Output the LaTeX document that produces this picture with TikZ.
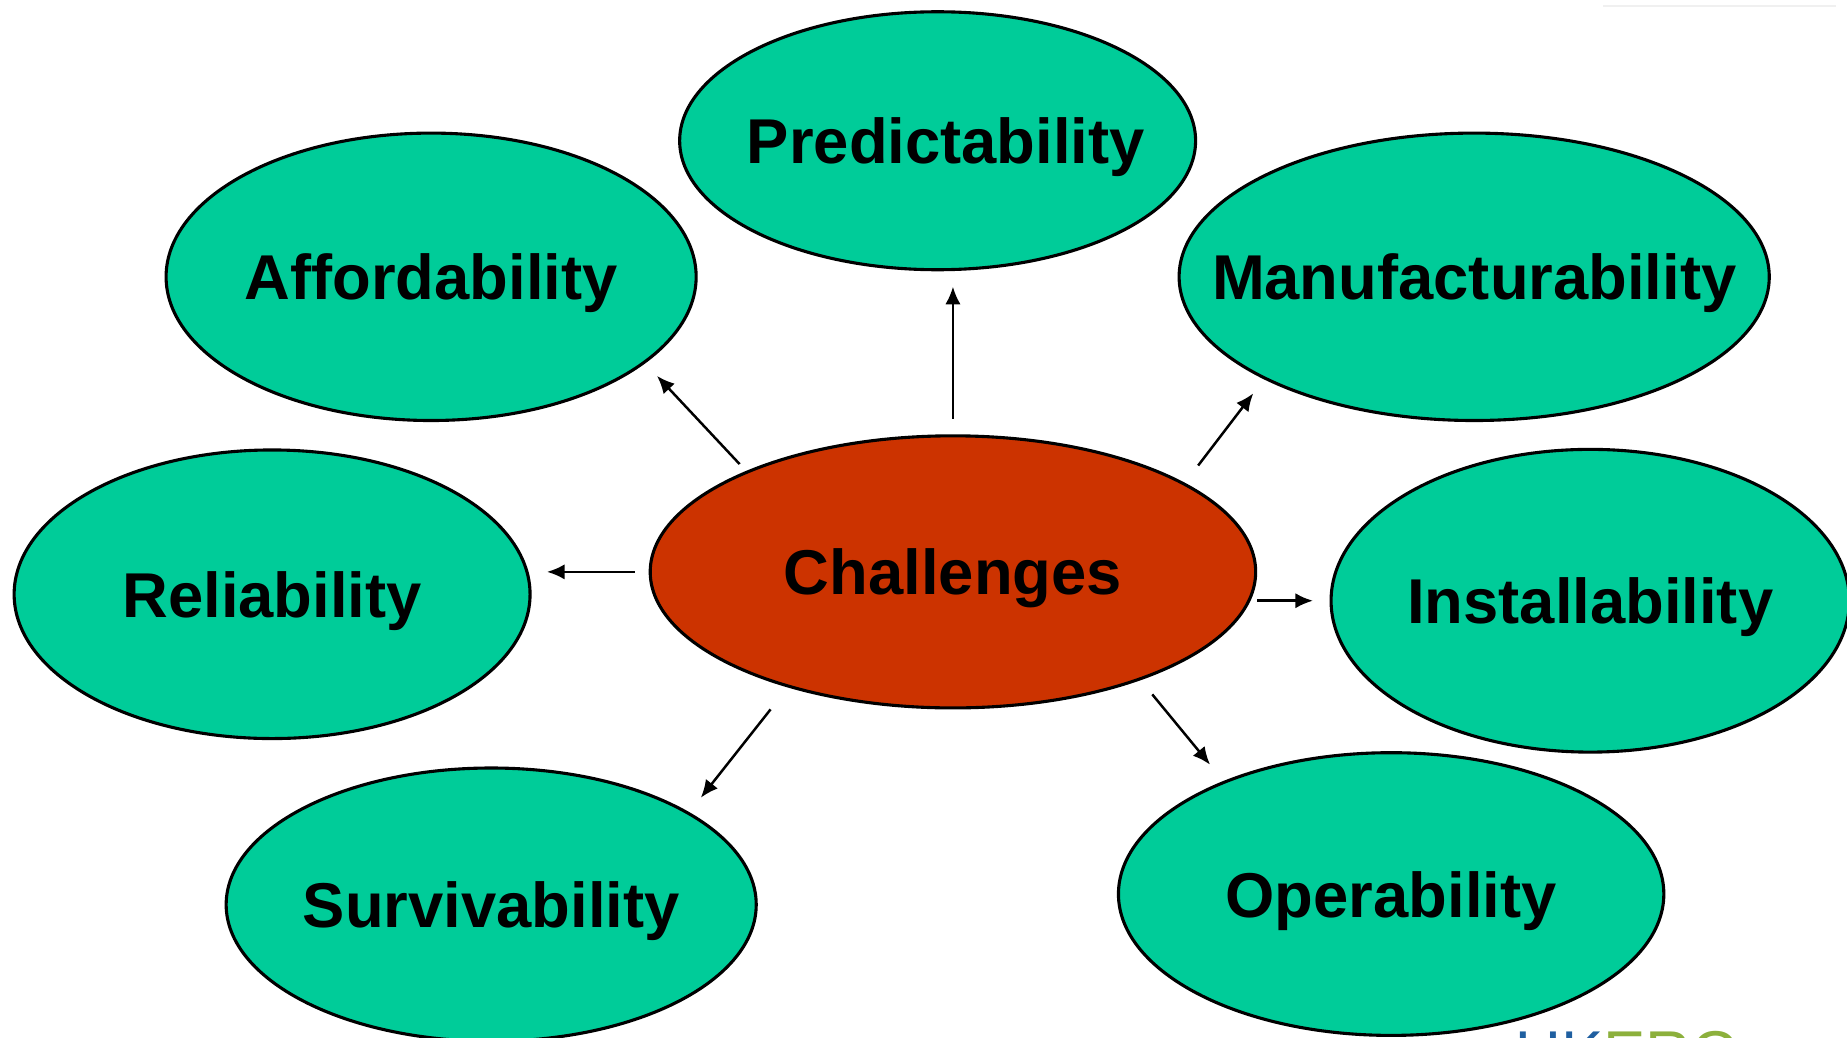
\documentclass[tikz,border=0pt]{standalone}
\usepackage{fontspec}
\setmainfont{Liberation Sans}
\usetikzlibrary{arrows.meta,shapes}
\definecolor{sea}{HTML}{00CC99}
\definecolor{rust}{HTML}{CC3300}
\definecolor{ukblue}{HTML}{1F5FA0}
\definecolor{ukgreen}{HTML}{8CB03C}
\newcommand{\blobtext}[1]{\makebox[0pt][c]{#1}}

\begin{document}
\begin{tikzpicture}[every node/.style={font=\bfseries\fontsize{15.3}{18}\selectfont},
    blob/.style={ellipse, draw, line width=0.75pt, inner sep=0pt, text depth=0pt, fill=sea},
    arr/.style={-{Latex[length=1.5mm,width=1.3mm]}, line width=0.6pt}]
      \useasboundingbox (-8.09,-3.955) rectangle (7.59,4.855);
      \draw[gray!12, line width=0.6pt] (5.52,4.805) -- (7.50,4.805);

      \node[blob, fill=rust, minimum width=5.14cm, minimum height=2.31cm] (ch) at (0,0) {\blobtext{Challenges}};
      \node[blob, minimum width=4.38cm, minimum height=2.19cm] (pred) at (-0.13,3.66) {\blobtext{\hspace{0.14cm}Predictability}};
      \node[blob, minimum width=4.50cm, minimum height=2.44cm] (aff) at (-4.43,2.505) {\blobtext{Affordability}};
      \node[blob, minimum width=5.01cm, minimum height=2.44cm] (man) at (4.425,2.505) {\blobtext{Manufacturability}};
      \node[blob, minimum width=4.38cm, minimum height=2.45cm] (rel) at (-5.78,-0.19) {\blobtext{Reliability}};
      \node[blob, minimum width=4.40cm, minimum height=2.57cm] (ins) at (5.41,-0.245) {\blobtext{Installability}};
      \node[blob, minimum width=4.50cm, minimum height=2.32cm] (surv) at (-3.92,-2.825) {\blobtext{Survivability}};
      \node[blob, minimum width=4.63cm, minimum height=2.40cm] (oper) at (3.72,-2.735) {\blobtext{Operability}};

      \node[anchor=north west, inner sep=0pt, font=\fontsize{15.3}{18}\selectfont] (logo) at (4.77,-3.89)
        {\textcolor{ukblue}{UK}\textcolor{ukgreen}{ERC}};

      \draw[arr, shorten <=0.13cm, shorten >=0.13cm] (ch.north) -- (ch.north |- pred.south);
      \draw[arr, shorten <=0.08cm, shorten >=0.146cm] (ch.154) -- (aff.-22.8);
      \draw[arr, shorten <=0.185cm, shorten >=0.15cm] (ch.21.5) -- (man.206);
      \draw[arr, shorten <=0.12cm, shorten >=0.13cm] (ch.west) -- (ch.west -| rel.east);
      \draw[arr, shorten >=0.14cm] (ins.west -| ch.east) -- (ins.west);
      \draw[arr, shorten <=0.237cm, shorten >=0.157cm] (ch.215) -- (surv.25.6);
      \draw[arr, shorten <=0.156cm, shorten >=0.179cm] (ch.-30.2) -- (oper.146.8);
    \end{tikzpicture}
\end{document}
